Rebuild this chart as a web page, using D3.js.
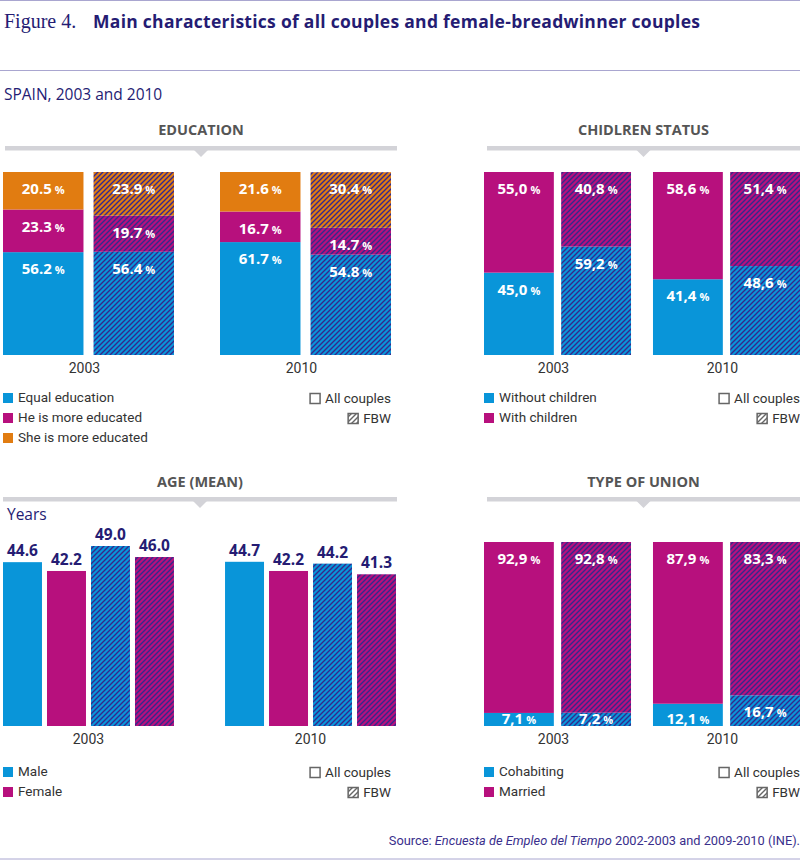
<!DOCTYPE html>
<html>
<head>
<meta charset="utf-8">
<script src="https://cdn.jsdelivr.net/npm/d3@7"></script>
<style>
  body { margin: 0; background: #fff; }
  svg { display: block; }
  text { font-family: Roboto, 'Liberation Sans', sans-serif; }
  .wide { font-family: 'Open Sans', Roboto, sans-serif; }
</style>
</head>
<body>
<svg width="800" height="860"></svg>
<script>
// ---- data ----
const years = ['2003', '2010'];
const couples = ['All couples', 'FBW'];

// order of values: 2003 all, 2003 FBW, 2010 all, 2010 FBW
const eduEqual = [56.2, 56.4, 61.7, 54.8];
const eduHe = [23.3, 19.7, 16.7, 14.7];
const eduShe = [20.5, 23.9, 21.6, 30.4];

const childWithout = [45.0, 59.2, 41.4, 48.6];
const childWith = [55.0, 40.8, 58.6, 51.4];

const unionCohab = [7.1, 7.2, 12.1, 16.7];
const unionMarried = [92.9, 92.8, 87.9, 83.3];

// age (mean years): male all, female all, male FBW, female FBW
const ageSeries = ['maleAll', 'femaleAll', 'maleFbw', 'femaleFbw'];
const age2003 = [44.6, 42.2, 49.0, 46.0];
const age2010 = [44.7, 42.2, 44.2, 41.3];

const blue = '#0995d9', magenta = '#b7107d', orange = '#e17c11';
const navy = '#251c73', hatchLine = '#34288c';

const svg = d3.select('svg');
const defs = svg.append('defs');

// diagonal hatch on top of a base colour
function hatch(id, base, line) {
    const p = defs.append('pattern')
        .attr('id', id)
        .attr('patternUnits', 'userSpaceOnUse')
        .attr('width', 5)
        .attr('height', 5);
    p.append('rect').attr('width', 5).attr('height', 5).attr('fill', base);
    p.append('path')
        .attr('d', 'M-1,1 l2,-2 M0,5 l5,-5 M4,6 l2,-2')
        .attr('stroke', line)
        .attr('stroke-width', 1.4);
}
hatch('h-blue', blue, hatchLine);
hatch('h-magenta', magenta, hatchLine);
hatch('h-orange', orange, hatchLine);
hatch('h-grey', '#fff', '#666');

// ---- title block ----
svg.append('line').attr('x1', 0).attr('x2', 800).attr('y1', 0.5).attr('y2', 0.5)
    .attr('stroke', '#a9a6d0');
svg.append('line').attr('x1', 0).attr('x2', 800).attr('y1', 70.5).attr('y2', 70.5)
    .attr('stroke', '#a9a6d0');
svg.append('line').attr('x1', 0).attr('x2', 800).attr('y1', 859).attr('y2', 859)
    .attr('stroke', '#a9a6d0');

svg.append('text').attr('x', 4).attr('y', 28)
    .style('font-family', "'Liberation Serif', serif")
    .attr('font-size', 20).attr('fill', navy)
    .text('Figure 4.');
svg.append('text').attr('class', 'wide').attr('x', 93).attr('y', 28)
    .attr('font-size', 17.5).attr('font-weight', 'bold').attr('fill', navy)
    .attr('textLength', 607).attr('lengthAdjust', 'spacing')
    .text('Main characteristics of all couples and female-breadwinner couples');

svg.append('text').attr('class', 'wide').attr('x', 4).attr('y', 100)
    .attr('font-size', 15.5).attr('fill', navy)
    .text('SPAIN, 2003 and 2010');

svg.append('text').attr('x', 800).attr('y', 845)
    .attr('text-anchor', 'end').attr('font-size', 12.8).attr('fill', '#3a2f8c')
    .call(t => {
        t.append('tspan').text('Source: ');
        t.append('tspan').attr('font-style', 'italic').text('Encuesta de Empleo del Tiempo');
        t.append('tspan').text(' 2002-2003 and 2009-2010 (INE).');
    });

// ---- helpers ----
function header(title, x0, x1, yText, yBar) {
    const cx = (x0 + x1) / 2;
    svg.append('text').attr('class', 'wide').attr('x', cx).attr('y', yText)
        .attr('text-anchor', 'middle').attr('font-size', 14.5).attr('font-weight', 'bold')
        .attr('fill', '#555').text(title);
    svg.append('rect').attr('x', x0).attr('y', yBar - 2).attr('width', x1 - x0).attr('height', 4.5)
        .attr('fill', '#d3d3d8');
    svg.append('path')
        .attr('d', `M${cx - 7},${yBar + 2} L${cx + 7},${yBar + 2} L${cx},${yBar + 9} Z`)
        .attr('fill', '#d3d3d8');
}

function legend(x, y, items) {
    items.forEach((it, i) => {
        svg.append('rect').attr('x', x).attr('y', y + i * 20 - 9).attr('width', 10).attr('height', 10)
            .attr('fill', it.color);
        svg.append('text').attr('x', x + 15).attr('y', y + i * 20)
            .attr('font-size', 13.5).attr('fill', '#333').text(it.label);
    });
}

function coupleLegend(xRight, y) {
    couples.forEach((c, i) => {
        const t = svg.append('text').attr('x', xRight).attr('y', y + i * 20)
            .attr('text-anchor', 'end').attr('font-size', 13.5).attr('fill', '#333').text(c);
        const w = t.node().getComputedTextLength();
        svg.append('rect').attr('x', xRight - w - 15).attr('y', y + i * 20 - 9.5)
            .attr('width', 10).attr('height', 10)
            .attr('fill', i === 0 ? '#fff' : 'url(#h-grey)')
            .attr('stroke', '#666').attr('stroke-width', 1.5);
    });
}

function pctLabel(sel, v, comma) {
    const s = v.toFixed(1);
    sel.append('tspan').text(comma ? s.replace('.', ',') : s);
    sel.append('tspan').attr('dx', 3).attr('font-size', 11).text('%');
}

function stackPanel(o) {
    const x = d3.scaleBand().domain(years).range([o.x0, o.x1]).paddingInner(o.pad);
    const xi = d3.scaleBand().domain(couples).range([0, x.bandwidth()]).paddingInner(o.padIn);
    const y = d3.scaleLinear().domain([0, 100]).range([o.yBot, o.yTop]);

    const rows = years.flatMap((yr, i) => couples.map((c, j) => {
        const r = { year: yr, couple: c };
        o.keys.forEach((k, n) => { r[k] = o.values[n][i * 2 + j]; });
        return r;
    }));
    const series = d3.stack().keys(o.keys)(rows);

    const g = svg.append('g');
    const layer = g.selectAll('g.layer')
        .data(series)
        .enter().append('g').attr('class', 'layer');

    layer.selectAll('rect')
        .data(s => s.map(d => ({ d, key: s.key })))
        .enter().append('rect')
        .attr('x', p => x(p.d.data.year) + xi(p.d.data.couple))
        .attr('width', xi.bandwidth())
        .attr('y', p => y(p.d[1]))
        .attr('height', p => y(p.d[0]) - y(p.d[1]))
        .attr('fill', p => p.d.data.couple === 'FBW' ? o.hatch[p.key] : o.colors[p.key]);

    layer.selectAll('text')
        .data(s => s.map(d => ({ d, key: s.key })))
        .enter().append('text').attr('class', 'wide')
        .attr('x', p => x(p.d.data.year) + xi(p.d.data.couple) + xi.bandwidth() / 2)
        .attr('y', p => Math.min(y(p.d[1]) + 22, y(p.d[0]) - 2))
        .attr('text-anchor', 'middle')
        .attr('font-size', 15).attr('font-weight', 'bold').attr('fill', '#fff')
        .each(function (p) { pctLabel(d3.select(this), p.d[1] - p.d[0], o.comma); });

    g.selectAll('text.year')
        .data(years)
        .enter().append('text').attr('class', 'year')
        .attr('x', d => x(d) + x.bandwidth() / 2 - 4)
        .attr('y', o.yBot + 18)
        .attr('text-anchor', 'middle').attr('font-size', 14).attr('fill', '#333')
        .text(d => d);
}

// ---- EDUCATION ----
header('EDUCATION', 5, 397, 135, 148);
stackPanel({
    x0: 3, x1: 391, yTop: 172, yBot: 355, pad: 0.212, padIn: 0.111,
    keys: ['equal', 'he', 'she'],
    values: [eduEqual, eduHe, eduShe],
    colors: { equal: blue, he: magenta, she: orange },
    hatch: { equal: 'url(#h-blue)', he: 'url(#h-magenta)', she: 'url(#h-orange)' },
    comma: false
});
legend(3, 402, [
    { label: 'Equal education', color: blue },
    { label: 'He is more educated', color: magenta },
    { label: 'She is more educated', color: orange }
]);
coupleLegend(391, 403);

// ---- CHILDREN ----
header('CHIDLREN STATUS', 487, 800, 135, 148);
stackPanel({
    x0: 484, x1: 800, yTop: 172, yBot: 355, pad: 0.13, padIn: 0.095,
    keys: ['without', 'with'],
    values: [childWithout, childWith],
    colors: { without: blue, with: magenta },
    hatch: { without: 'url(#h-blue)', with: 'url(#h-magenta)' },
    comma: true
});
legend(484, 402, [
    { label: 'Without children', color: blue },
    { label: 'With children', color: magenta }
]);
coupleLegend(800, 403);

// ---- AGE ----
header('AGE (MEAN)', 3, 397, 487, 499);
svg.append('text').attr('class', 'wide').attr('x', 7).attr('y', 520)
    .attr('font-size', 15.5).attr('fill', navy).text('Years');

const ageRows = [];
years.forEach((yr, i) => {
    const vals = i === 0 ? age2003 : age2010;
    ageSeries.forEach((s, j) => ageRows.push({ year: yr, series: s, value: vals[j] }));
});

const xa = d3.scaleBand().domain(years).range([3, 396]).paddingInner(0.23);
const xai = d3.scaleBand().domain(ageSeries).range([0, xa.bandwidth()]).paddingInner(0.114);
const ya = d3.scaleLinear().domain([0, 49]).range([726, 546]);
const ageFill = { maleAll: blue, femaleAll: magenta, maleFbw: 'url(#h-blue)', femaleFbw: 'url(#h-magenta)' };

const ag = svg.append('g');
ag.selectAll('rect')
    .data(ageRows)
    .enter().append('rect')
    .attr('x', d => xa(d.year) + xai(d.series))
    .attr('width', xai.bandwidth())
    .attr('y', d => ya(d.value))
    .attr('height', d => ya(0) - ya(d.value))
    .attr('fill', d => ageFill[d.series]);

ag.selectAll('text.val')
    .data(ageRows)
    .enter().append('text').attr('class', 'val wide')
    .attr('x', d => xa(d.year) + xai(d.series) + xai.bandwidth() / 2)
    .attr('y', d => ya(d.value) - 6)
    .attr('text-anchor', 'middle').attr('font-size', 15.5).attr('font-weight', 'bold')
    .attr('fill', navy)
    .text(d => d.value.toFixed(1));

ag.selectAll('text.year')
    .data(years)
    .enter().append('text').attr('class', 'year')
    .attr('x', d => xa(d) + xa.bandwidth() / 2)
    .attr('y', 744)
    .attr('text-anchor', 'middle').attr('font-size', 14).attr('fill', '#333')
    .text(d => d);

legend(3, 776, [
    { label: 'Male', color: blue },
    { label: 'Female', color: magenta }
]);
coupleLegend(391, 777);

// ---- TYPE OF UNION ----
header('TYPE OF UNION', 487, 800, 487, 499);
stackPanel({
    x0: 484, x1: 800, yTop: 542, yBot: 726, pad: 0.13, padIn: 0.095,
    keys: ['cohab', 'married'],
    values: [unionCohab, unionMarried],
    colors: { cohab: blue, married: magenta },
    hatch: { cohab: 'url(#h-blue)', married: 'url(#h-magenta)' },
    comma: true
});
legend(484, 776, [
    { label: 'Cohabiting', color: blue },
    { label: 'Married', color: magenta }
]);
coupleLegend(800, 777);
</script>
</body>
</html>
